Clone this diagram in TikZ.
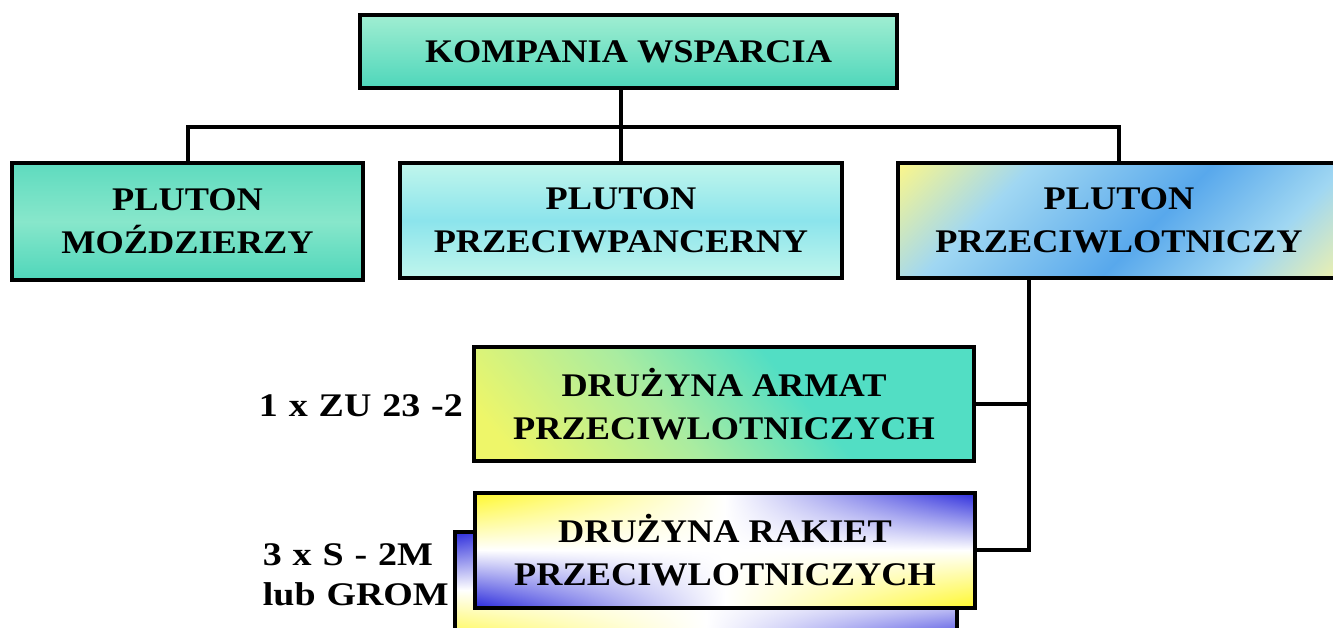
\documentclass[tikz,border=0pt]{standalone}
\usepackage{fontspec}
\setmainfont{Liberation Serif}[FakeStretch=1.1]
\newfontfamily\lblfont{Liberation Serif}[FakeStretch=1.15, WordSpace=1.15]
\usetikzlibrary{positioning}

\definecolor{mint}{RGB}{160,238,210}
\definecolor{seagreen}{RGB}{78,214,186}
\definecolor{palecyan}{RGB}{192,246,236}
\definecolor{cyanband}{RGB}{140,228,236}
\definecolor{ylw}{RGB}{250,246,140}
\definecolor{paleblue}{RGB}{160,215,242}
\definecolor{skyblue}{RGB}{88,168,236}
\definecolor{cream}{RGB}{236,240,175}
\definecolor{lemon}{RGB}{238,246,105}
\definecolor{greenish}{RGB}{170,236,160}
\definecolor{tealbox}{RGB}{82,222,196}

% diagonal fills
\pgfdeclarehorizontalshading{yellowblue}{100bp}{color(0bp)=(ylw); color(15bp)=(ylw);
  color(32bp)=(paleblue); color(55bp)=(skyblue); color(72bp)=(paleblue); color(85bp)=(cream); color(100bp)=(cream)}
\pgfdeclarehorizontalshading{yellowteal}{100bp}{color(0bp)=(lemon); color(20bp)=(lemon);
  color(42bp)=(greenish); color(60bp)=(tealbox); color(100bp)=(tealbox)}
% yellow / white / violet twist
\pgfdeclarefunctionalshading{twist}{\pgfpointorigin}{\pgfpoint{100bp}{100bp}}{}{
  50 sub exch 50 sub mul 450 div
  dup abs 2 copy add 2 div 3 1 roll exch sub 2 div
  1 index 0.6 mul 1 exch sub 3 1 roll
  1 index 0.6 mul 1 index 0.02 mul add 1 exch sub 3 1 roll
  0.6 mul exch 0.1 mul add 1 exch sub
}
\pgfdeclarefunctionalshading{twistback}{\pgfpointorigin}{\pgfpoint{100bp}{100bp}}{}{
  50 sub exch 50 sub mul -450 div
  dup abs 2 copy add 2 div 3 1 roll exch sub 2 div
  1 index 0.6 mul 1 exch sub 3 1 roll
  1 index 0.6 mul 1 index 0.02 mul add 1 exch sub 3 1 roll
  0.6 mul exch 0.1 mul add 1 exch sub
}

\begin{document}
\begin{tikzpicture}[x=1pt, y=-1pt,
    unit/.style={draw, line width=4pt, align=center, inner sep=0pt,
      font=\bfseries\fontsize{33}{43}\selectfont},
    lbl/.style={align=left, inner sep=0pt, font=\lblfont\bfseries\fontsize{33}{40}\selectfont},
    link/.style={line width=4pt}]
        \clip (0,0) rectangle (1333,627);
        % command
        \node [unit, minimum width=537, minimum height=73, top color=mint, bottom color=seagreen]
            (kompania) at (628.5,51.5) {KOMPANIA WSPARCIA};
        % platoons
        \node [unit, minimum width=351, minimum height=117, top color=seagreen!80!mint,
            bottom color=seagreen, middle color=mint!70!seagreen]
            (mozdz) at (187.5,221.5) {PLUTON\\MOŹDZIERZY};
        \node [unit, minimum width=442, minimum height=115, top color=palecyan,
            bottom color=palecyan, middle color=cyanband]
            (ppanc) at (621,220.5) {PLUTON\\PRZECIWPANCERNY};
        \node [unit, minimum width=442, minimum height=115, shading=yellowblue, shading angle=-45]
            (plot) at (1119,220) {PLUTON\\PRZECIWLOTNICZY};
        % squads
        \node [unit, minimum width=500, minimum height=114, shading=yellowteal, shading angle=40]
            (armat) at (724,404) {DRUŻYNA ARMAT\\PRZECIWLOTNICZYCH};
        \node [unit, minimum width=502, minimum height=116, shading=twistback]
            (rakietb) at (706,590) {};
        \node [unit, minimum width=500, minimum height=115, shading=twist]
            (rakiet) at (725,550) {DRUŻYNA RAKIET\\PRZECIWLOTNICZYCH};
        % weapons
        \node [lbl, left=9pt of armat, yshift=-2pt] (zu) {1 x ZU 23 -2};
        \node [lbl, left=4pt of rakietb.west, anchor=east, yshift=15pt] (grom) {3 x S - 2M\\lub GROM};
        % links
        \coordinate (bus) at (ppanc.north |- 0,127);
        \coordinate (pdrop) at (plot.south -| 1029,0);
        \draw [link] (mozdz.north) |- (bus) -| (plot.north);
        \draw [link] (kompania.south -| bus) -- (ppanc.north);
        \draw [link] (pdrop) |- (rakiet.east);
        \draw [link] (armat.east) -- (armat.east -| pdrop);

    \end{tikzpicture}
\end{document}
